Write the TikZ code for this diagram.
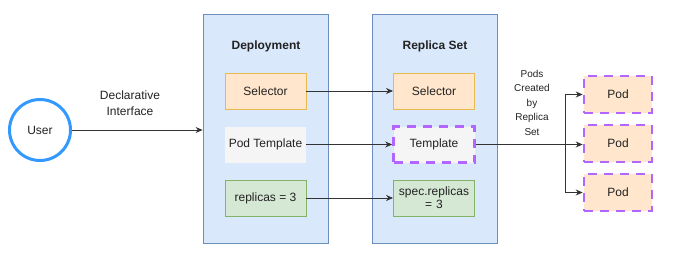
\documentclass[tikz,border=0pt]{standalone}
\usepackage{fontspec}
\setmainfont{Liberation Sans}
\usetikzlibrary{arrows.meta}
\definecolor{blueFill}{HTML}{DAE8FC}
\definecolor{blueLine}{HTML}{6C8EBF}
\definecolor{orangeFill}{HTML}{FFE6CC}
\definecolor{orangeLine}{HTML}{E8B94F}
\definecolor{greenFill}{HTML}{D5E8D4}
\definecolor{greenLine}{HTML}{82B366}
\definecolor{greyFill}{HTML}{F5F5F5}
\definecolor{purpleLine}{HTML}{B266FF}
\definecolor{userBlue}{HTML}{3399FF}
\definecolor{ink}{HTML}{222222}
\definecolor{wire}{HTML}{333333}
\begin{document}
\begin{tikzpicture}[x=1pt,y=-1pt,
  every node/.style={font=\fontsize{12}{14}\selectfont, text=ink},
  container/.style={draw=blueLine, fill=blueFill, line width=0.8pt, minimum width=125pt, minimum height=229pt, inner sep=0pt},
  field/.style={minimum width=81pt, minimum height=36pt, inner sep=1pt, align=center, line width=0.9pt},
  orangebox/.style={field, draw=orangeLine, fill=orangeFill},
  greenbox/.style={field, draw=greenLine, fill=greenFill},
  greybox/.style={field, fill=greyFill},
  dashedpurple/.style={draw=purpleLine, line width=2.6pt, dash pattern=on 9pt off 7pt},
  podbox/.style={field, minimum width=68pt, minimum height=37pt, fill=orangeFill, dashedpurple},
  link/.style={draw=wire, line width=0.8pt, -{Stealth[length=7pt,width=6pt]}},
  title/.style={font=\fontsize{12}{14}\selectfont\bfseries},
  smalllabel/.style={font=\fontsize{10}{14.5}\selectfont, align=center}
]
\useasboundingbox (0,0) rectangle (675,257);

% user
\node[circle, draw=userBlue, line width=3pt, minimum size=61pt, inner sep=0pt] (user) at (40,130) {User};

% deployment column
\node[container] (dep) at (265.5,128.5) {};
\node[title] (depTitle) at (266,46) {Deployment};
\node[orangebox] (depSel) at (265.5,91) {Selector};
\node[greybox] (depTpl) at (265.5,144.5) {Pod Template};
\node[greenbox] (depRep) at (265.5,198) {replicas = 3};

% replica set column
\node[container] (rs) at (434.5,128.5) {};
\node[title] (rsTitle) at (435,46) {Replica Set};
\node[orangebox] (rsSel) at (434,91) {Selector};
\node[greybox, dashedpurple] (rsTpl) at (434,144.5) {Template};
\node[greenbox, text width=78pt] (rsRep) at (434,198) {spec.replicas\\[-1pt]= 3};

% pods
\node[podbox] (pod1) at (618,94.5) {Pod};
\node[podbox] (pod2) at (618,143.5) {Pod};
\node[podbox] (pod3) at (618,192.5) {Pod};

% user to deployment
\draw[link] (user) -- (dep.west |- user) coordinate (userIn);
\node[align=center, font=\fontsize{12}{16}\selectfont] (declLbl) at (130,103) {Declarative\\Interface};

% deployment fields to replica set fields
\draw[link] (depSel) -- (rsSel);
\draw[link] (depTpl.east) -- (rsTpl.west);
\draw[link] (depRep) -- (rsRep);

% template fan-out to pods
\coordinate (fork) at (565,144.5);
\draw[link] (rsTpl.east) -- (pod2.west |- rsTpl.east);
\draw[link] (fork) |- (pod1.west);
\draw[link] (fork) |- (pod3.west);
\node[smalllabel] (podsLbl) at (532,102.5) {Pods\\Created\\by\\Replica\\Set};
\end{tikzpicture}
\end{document}
